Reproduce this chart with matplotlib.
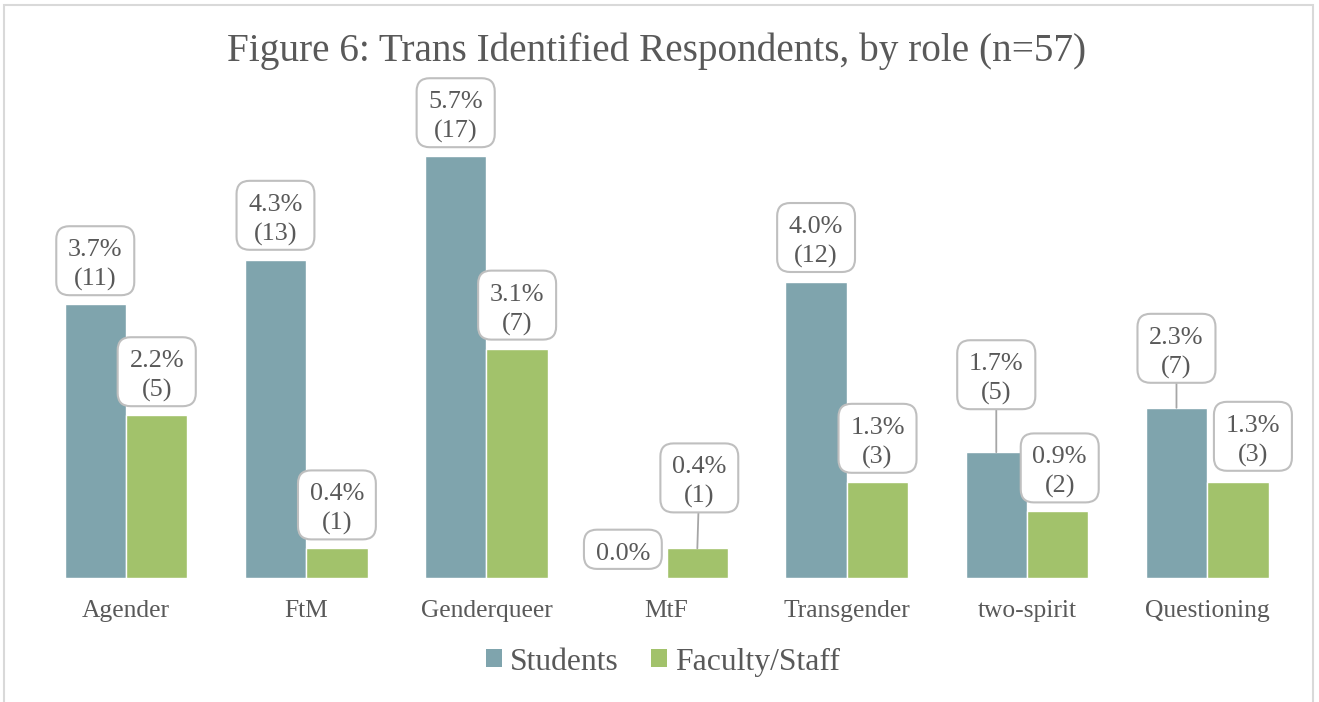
import matplotlib
matplotlib.use("Agg")
import matplotlib.pyplot as plt
from matplotlib.patches import Rectangle, Patch, BoxStyle
import numpy as np

# ---------------- data ----------------
categories = ["Agender", "FtM", "Genderqueer", "MtF", "Transgender", "two-spirit", "Questioning"]
students_pct = [3.7, 4.3, 5.7, 0.0, 4.0, 1.7, 2.3]
students_n = [11, 13, 17, 0, 12, 5, 7]
faculty_pct = [2.2, 0.4, 3.1, 0.4, 1.3, 0.9, 1.3]
faculty_n = [5, 1, 7, 1, 3, 2, 3]
series_names = ["Students", "Faculty/Staff"]
title = "Figure 6: Trans Identified Respondents, by role (n=57)"

# ---------------- layout / style ----------------
# callout offsets (pixels) of the label text centre relative to the bar top, and leader-line flags
students_offsets = [(0, 39), (0, 40), (0, 39), (-13, 24), (0, 40), (0, 73), (0, 55)]
students_leader = [False, False, False, False, False, True, True]
faculty_offsets = [(0, 39), (0, 39), (0, 39), (2, 66), (0, 39), (2, 39), (15, 41)]
faculty_leader = [False, False, False, True, False, False, False]

C_STU = "#7FA4AD"
C_FAC = "#A2C26B"
C_TXT = "#595959"
FONT = ["Liberation Serif", "DejaVu Serif"]

W, H, DPI = 1319, 702, 100
fig = plt.figure(figsize=(W / DPI, H / DPI), dpi=DPI)
fig.patch.set_facecolor("white")

# outer chart border
fig.patches.append(Rectangle((4 / W, -0.05), (1313 - 4) / W, 1.05 - 5 / H,
                             transform=fig.transFigure, fill=False,
                             edgecolor="#D9D9D9", linewidth=1.5))

ax_left, ax_width = 35.9, 1261.4
ax_bottom, ax_height = H - 578, 444
ax = fig.add_axes([ax_left / W, ax_bottom / H, ax_width / W, ax_height / H])
ax.set_xlim(-0.5, len(categories) - 0.5)
ax.set_ylim(0, 6.0)

x = np.arange(len(categories))
bw = 0.341
ax.bar(x - bw / 2, students_pct, bw, color=C_STU, edgecolor="white", linewidth=1.0)
ax.bar(x + bw / 2, faculty_pct, bw, color=C_FAC, edgecolor="white", linewidth=1.0)

for s in ax.spines.values():
    s.set_visible(False)
ax.set_yticks([])
ax.set_xticks(x)
ax.set_xticklabels(categories, fontsize=18.4, color=C_TXT, family=FONT)
ax.tick_params(axis="x", length=0, pad=16)

_round = BoxStyle.Round(pad=0, rounding_size=0.5)


def callout_box(x0, y0, width, height, mutation_size):
    px = 0.45 * mutation_size
    py = 0.33 * mutation_size
    shift = 0.18 * mutation_size
    return _round(x0 - px, y0 - py + shift, width + 2 * px, height + 2 * py, mutation_size)


def label(xpos, pct, n, off, leader):
    txt = f"{pct:.1f}%\n({n})" if n > 0 else f"{pct:.1f}%"
    kw = dict(xytext=off, textcoords="offset pixels",
              ha="center", va="center", fontsize=18.8, color=C_TXT, family=FONT,
              linespacing=1.4,
              bbox=dict(boxstyle=callout_box, fc="white", ec="#BFBFBF", lw=1.5))
    if leader:
        kw["arrowprops"] = dict(arrowstyle="-", color="#A6A6A6", lw=1.3,
                                shrinkA=0, shrinkB=0)
    ax.annotate(txt, (xpos, pct), **kw)


for i in range(len(categories)):
    label(x[i] - bw / 2, students_pct[i], students_n[i], students_offsets[i], students_leader[i])
    label(x[i] + bw / 2, faculty_pct[i], faculty_n[i], faculty_offsets[i], faculty_leader[i])

fig.text(657 / W, 1 - 51 / H, title, ha="center", va="center", fontsize=28.3,
         color=C_TXT, family=FONT)

handles = [Patch(facecolor=C_STU, edgecolor="none"), Patch(facecolor=C_FAC, edgecolor="none")]
leg = fig.legend(handles, series_names, loc="center", bbox_to_anchor=(663 / W, 1 - 662 / H),
                 ncol=2, frameon=False, handlelength=0.5, handleheight=0.5,
                 handletextpad=0.25, columnspacing=1.05,
                 prop={"family": FONT, "size": 22.8})
for t in leg.get_texts():
    t.set_color(C_TXT)

fig.savefig("out.png", dpi=DPI)
